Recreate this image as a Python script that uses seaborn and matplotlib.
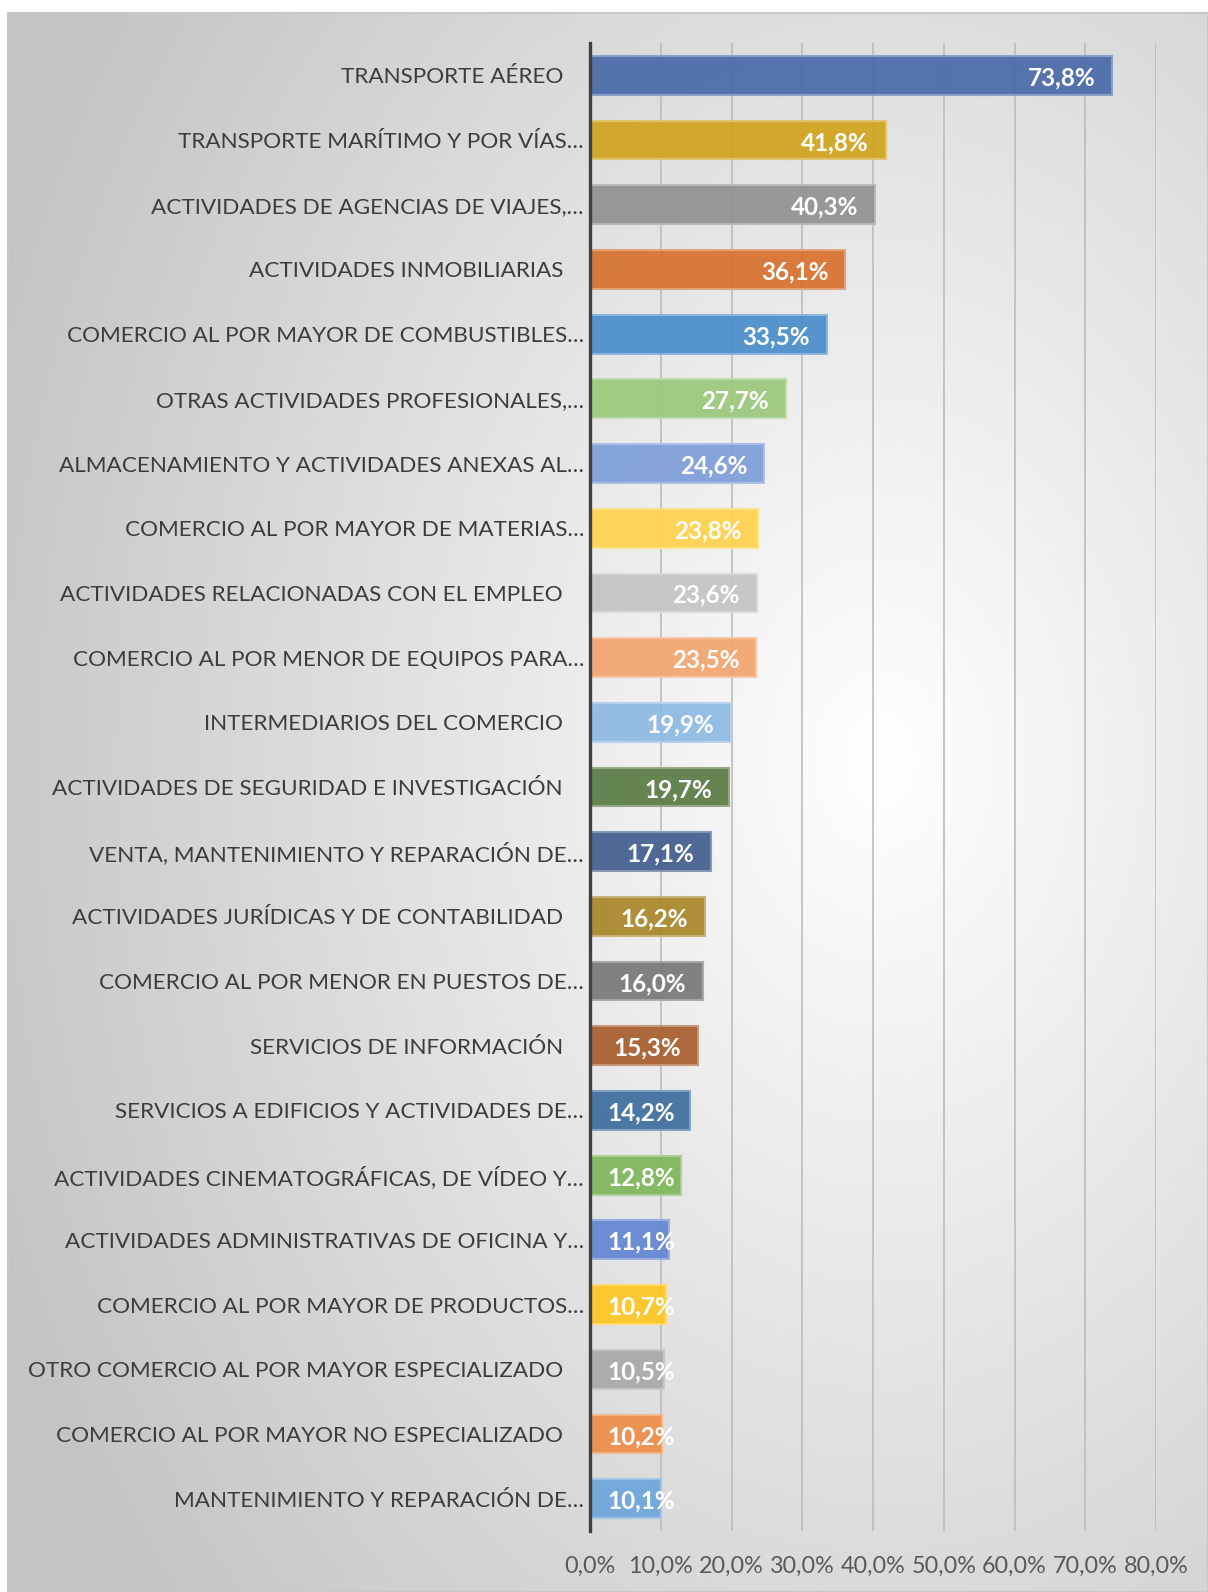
import numpy as np
import pandas as pd
import matplotlib
matplotlib.use("Agg")
import matplotlib.pyplot as plt
import matplotlib.transforms as mtransforms
from matplotlib.colors import to_rgb
import seaborn as sns

categories = [
    "TRANSPORTE AÉREO",
    "TRANSPORTE MARÍTIMO Y POR VÍAS…",
    "ACTIVIDADES DE AGENCIAS DE VIAJES,…",
    "ACTIVIDADES INMOBILIARIAS",
    "COMERCIO AL POR MAYOR DE COMBUSTIBLES…",
    "OTRAS ACTIVIDADES PROFESIONALES,…",
    "ALMACENAMIENTO Y ACTIVIDADES ANEXAS AL…",
    "COMERCIO AL POR MAYOR DE MATERIAS…",
    "ACTIVIDADES RELACIONADAS CON EL EMPLEO",
    "COMERCIO AL POR MENOR DE EQUIPOS PARA…",
    "INTERMEDIARIOS DEL COMERCIO",
    "ACTIVIDADES DE SEGURIDAD E INVESTIGACIÓN",
    "VENTA, MANTENIMIENTO Y REPARACIÓN DE…",
    "ACTIVIDADES JURÍDICAS Y DE CONTABILIDAD",
    "COMERCIO AL POR MENOR EN PUESTOS DE…",
    "SERVICIOS DE INFORMACIÓN",
    "SERVICIOS A EDIFICIOS Y ACTIVIDADES DE…",
    "ACTIVIDADES CINEMATOGRÁFICAS, DE VÍDEO Y…",
    "ACTIVIDADES ADMINISTRATIVAS DE OFICINA Y…",
    "COMERCIO AL POR MAYOR DE PRODUCTOS…",
    "OTRO COMERCIO AL POR MAYOR ESPECIALIZADO",
    "COMERCIO AL POR MAYOR NO ESPECIALIZADO",
    "MANTENIMIENTO Y REPARACIÓN DE…",
]
values = [73.8, 41.8, 40.3, 36.1, 33.5, 27.7, 24.6, 23.8, 23.6, 23.5, 19.9, 19.7,
          17.1, 16.2, 16.0, 15.3, 14.2, 12.8, 11.1, 10.7, 10.5, 10.2, 10.1]
bar_colors = ["#4A6BA9", "#D1A41F", "#929292", "#D6722F", "#4B8ECC", "#9CC87C",
              "#7E9FD8", "#FFD24D", "#C4C4C4", "#F3A570", "#8EBAE3", "#5A7C45",
              "#445E8E", "#A9872A", "#797979", "#A85E2E", "#3E6E9F", "#7FB65A",
              "#6386D2", "#FFC623", "#A9A9A9", "#EE8E4A", "#6FA6DC"]
tick_values = [0, 10, 20, 30, 40, 50, 60, 70, 80]
tick_labels = ["0,0%", "10,0%", "20,0%", "30,0%", "40,0%", "50,0%", "60,0%", "70,0%", "80,0%"]

sns.set_theme(style="white")
plt.rcParams['font.family'] = ['Lato', 'DejaVu Sans']

W, H = 1208, 1592
fig = plt.figure(figsize=(W / 100, H / 100), dpi=100, facecolor="white")

# background radial gradient
bx0, by0 = 8, 13
bw, bh = W - bx0, H - by0
bg = fig.add_axes([bx0 / W, 0, bw / W, bh / H], zorder=-10)
yy, xx = np.mgrid[0:bh, 0:bw]
cx, cy = 880 - bx0, 760 - by0
d = np.sqrt((xx - cx) ** 2 + ((yy - cy) * 0.72) ** 2) / 950.0
g = 1 - 0.23 * np.clip(d, 0, 1.0) ** 1.0
img = np.dstack([g, g, g])
bg.imshow(img, aspect="auto", extent=[0, 1, 0, 1], interpolation="bilinear")
bg.set_xlim(0, 1)
bg.set_ylim(0, 1)
bg.axis("off")
fig.patches.append(matplotlib.patches.Rectangle((bx0 / W, 0), bw / W, bh / H, transform=fig.transFigure,
                                                fill=False, edgecolor="#c8c8c8", linewidth=1.5, zorder=-5))

ax_l, ax_r, ax_t, ax_b = 590, 1156, 43, 1531
ax = fig.add_axes([ax_l / W, (H - ax_b) / H, (ax_r - ax_l) / W, (ax_b - ax_t) / H])
ax.set_facecolor("none")

df = pd.DataFrame({"category": categories, "value": values})
sns.barplot(data=df, x="value", y="category", hue="category", palette=bar_colors,
            saturation=1, legend=False, width=0.6, orient="h", ax=ax, linewidth=1.5)
for p, c in zip(ax.patches, bar_colors):
    r, gg, b = to_rgb(c)
    p.set_facecolor((r, gg, b, 0.93))
    p.set_edgecolor((r + (1 - r) * 0.35, gg + (1 - gg) * 0.35, b + (1 - b) * 0.35, 0.95))
    p.set_zorder(2)

ax.set_xlim(0, 80)
ax.set_ylim(len(categories) - 0.5, -0.5)
ax.set_xticks(tick_values)
ax.set_xticklabels(tick_labels)
ax.set_axisbelow(True)
ax.grid(axis="x", color="#bcbcbc", linewidth=1.2)
ax.grid(axis="y", visible=False)
ax.set_xlabel("")
ax.set_ylabel("")
for s in ["top", "right", "bottom"]:
    ax.spines[s].set_visible(False)
ax.spines["left"].set_color("#404040")
ax.spines["left"].set_linewidth(2.4)
ax.spines["left"].set_zorder(5)
ax.tick_params(axis="x", length=0, pad=18, labelsize=16.8, labelcolor="#595959")
ax.tick_params(axis="y", length=0, pad=19.5, labelsize=16.2, labelcolor="#3c3c3c")

for lab in ax.get_yticklabels():
    if lab.get_text().endswith("…"):
        lab.set_transform(lab.get_transform() + mtransforms.ScaledTranslation(21 / 100, 0, fig.dpi_scale_trans))

# value labels
fig.canvas.draw()
renderer = fig.canvas.get_renderer()
px_per_unit = (ax_r - ax_l) / 80.0
unit_per_px_y = len(categories) / (ax_b - ax_t)
for i, v in enumerate(values):
    t = ax.text(v, i + 2.5 * unit_per_px_y, f"{v:.1f}%".replace(".", ","), ha="right", va="center",
                color="white", fontweight="bold", fontsize=17.5, zorder=6,
                transform=ax.transData)
    bb = t.get_window_extent(renderer)
    wpx = bb.width
    right_px = v * px_per_unit - 17
    left_px = right_px - wpx
    if left_px < 17:
        right_px = 17 + wpx
    t.set_x(right_px / px_per_unit)

fig.savefig("out.png", dpi=100, facecolor="white")
